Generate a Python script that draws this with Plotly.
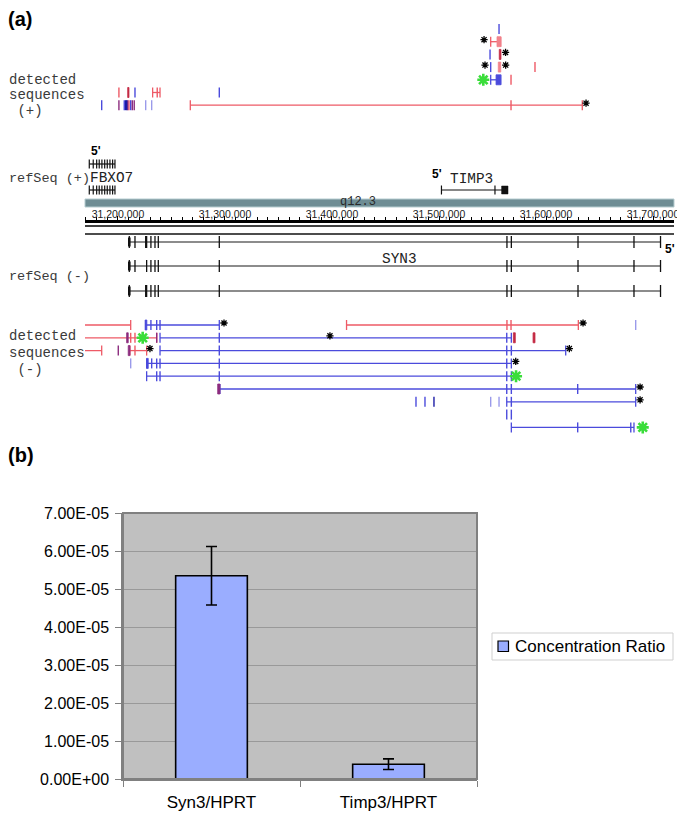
import plotly.graph_objects as go

W, H = 685, 826

# ======================= DATA =======================
# genomic ruler (chr22)
axis_ticks = [31200000, 31300000, 31400000, 31500000, 31600000, 31700000]
view_range = [31169200, 31719600]
band_name = "q12.3"
band_label_pos = 31424000

# detected sequences, (+) strand : (row, start, end, kind)
plus_lines = [
    (1, 31548300, 31557700, "r"),
    (4, 31548300, 31557700, "b"),
    (5, 31232400, 31239300, "r"),
    (6, 31267600, 31633900, "r"),
]
plus_ticks = [  # (row, position, kind)
    (0, 31556100, "b"),
    (2, 31547700, "b"),
    (3, 31548300, "b"), (3, 31589700, "r"),
    (4, 31567300, "r"),
    (5, 31200900, "r"), (5, 31215900, "b"), (5, 31236700, "r"), (5, 31294700, "b"),
    (6, 31184800, "b"), (6, 31200900, "p"), (6, 31205900, "b"), (6, 31207200, "db"),
    (6, 31208100, "db"), (6, 31209100, "p"), (6, 31210300, "r"), (6, 31211900, "b"),
    (6, 31213400, "p"), (6, 31215200, "p"), (6, 31225900, "lb"), (6, 31231500, "lb"),
    (6, 31567300, "r"),
]
plus_blocks = [  # (row, start, end, kind)
    (1, 31554200, 31557700, "lr"),
    (2, 31556300, 31557900, "dr"),
    (3, 31555400, 31557700, "lr"),
    (4, 31553300, 31557700, "b"),
    (5, 31209100, 31210300, "dr"),
]
plus_stars = [  # (row, position, kind)
    (1, 31542100, "k"), (2, 31562200, "k"), (3, 31543000, "k"), (3, 31562300, "k"),
    (4, 31541400, "g"), (6, 31637400, "k"),
]

# refSeq (+) genes
fbxo7_exons = [31173200, 31176900, 31180100, 31182500, 31185000, 31187600,
               31190000, 31192500, 31195000, 31197200]
timp3_span = (31502300, 31564500)
timp3_exons = [31502300, 31552300]
timp3_block = (31558500, 31564500)

# refSeq (-) SYN3 transcripts (exon positions)
syn3_transcripts = [
    [31210600, 31215900, 31225900, 31226800, 31230800, 31234600, 31237700, 31294700,
     31563500, 31567600, 31629900, 31682200, 31707000],
    [31210600, 31215900, 31226800, 31230800, 31234600, 31237700, 31294700,
     31563500, 31567600, 31629900, 31682200, 31707000],
    [31210600, 31225900, 31226800, 31230800, 31234600, 31237700, 31294700,
     31563500, 31567600, 31629900, 31682200, 31707000],
]

# detected sequences, (-) strand
minus_lines = [
    (0, 31150000, 31211900, "r"), (0, 31225900, 31294700, "b"), (0, 31413600, 31630200, "r"),
    (1, 31150000, 31236200, "r"), (1, 31239300, 31567600, "b"),
    (2, 31150000, 31184800, "r"), (2, 31211200, 31226800, "r"), (2, 31239300, 31618400, "b"),
    (3, 31226800, 31567600, "b"),
    (4, 31226800, 31567600, "b"),
    (5, 31295300, 31683800, "b"),
    (6, 31563300, 31683800, "b"),
    (8, 31567600, 31682200, "b"),
]
minus_ticks = [
    (0, 31230800, "b"), (0, 31236200, "b"), (0, 31239300, "b"), (0, 31563500, "r"),
    (0, 31567300, "r"), (0, 31683800, "lb"),
    (1, 31211900, "r"), (1, 31215900, "r"), (1, 31236200, "p"), (1, 31294700, "b"),
    (1, 31563300, "b"),
    (2, 31200300, "p"), (2, 31215900, "r"), (2, 31294700, "b"), (2, 31563300, "b"),
    (2, 31567600, "b"),
    (3, 31211900, "lb"), (3, 31231500, "b"), (3, 31236200, "b"), (3, 31239300, "b"),
    (3, 31294700, "b"), (3, 31563300, "b"),
    (4, 31236200, "b"), (4, 31239300, "b"), (4, 31294700, "b"), (4, 31563300, "b"),
    (5, 31563300, "b"), (5, 31567600, "b"), (5, 31629600, "b"),
    (6, 31478500, "b"), (6, 31486900, "b"), (6, 31495300, "db"), (6, 31548300, "lb"),
    (6, 31556100, "lb"), (6, 31567600, "b"),
    (7, 31563300, "b"), (7, 31567600, "b"),
    (8, 31629600, "b"), (8, 31679200, "b"),
]
minus_blocks = [
    (0, 31225400, 31227000, "b"),
    (1, 31208100, 31209600, "p"), (1, 31569500, 31571300, "dr"), (1, 31587900, 31589700, "dr"),
    (2, 31209600, 31211200, "p"),
    (3, 31226800, 31228300, "b"),
    (5, 31293200, 31295300, "p"),
]
minus_stars = [
    (0, 31299100, "k"), (0, 31634600, "k"), (1, 31223100, "g"), (1, 31398100, "k"),
    (2, 31229900, "k"), (2, 31621800, "k"), (3, 31571700, "k"), (4, 31572000, "g"),
    (5, 31687900, "k"), (6, 31687900, "k"), (8, 31690400, "g"),
]

# panel (b): qPCR bar chart
bar_categories = ["Syn3/HPRT", "Timp3/HPRT"]
bar_values = [5.35e-5, 3.9e-6]
bar_errors = [7.7e-6, 1.4e-6]
bar_series_name = "Concentration Ratio"
y_tick_values = [0, 1e-5, 2e-5, 3e-5, 4e-5, 5e-5, 6e-5, 7e-5]
y_tick_labels = ["0.00E+00", "1.00E-05", "2.00E-05", "3.00E-05", "4.00E-05",
                 "5.00E-05", "6.00E-05", "7.00E-05"]

# ======================= STYLE / LAYOUT =======================
COLORS = {"r": "#EE5A66", "lr": "#F2838C", "dr": "#C42A44", "b": "#4B4BDC",
          "db": "#1C1CA6", "lb": "#9A9AEA", "p": "#8C2C7E", "k": "#000000",
          "g": "#3ADD3A"}
BAR_COLOR = "#9AADFF"
TRACK_Y0 = {"plus": 29.0, "minus": 325.0}
TRACK_DY = {"plus": 12.7, "minus": 12.8}
TICK_H = 5.0
MONO = "Liberation Mono, Courier New, monospace"
SANS = "Liberation Sans, Arial, Helvetica, sans-serif"
LABEL_COL = "#3a3a3a"
OFF = 8  # the page places the figure 8 px in from the top-left corner


def PX(x):
    return (x - OFF) / W


def PY(y):
    return 1 - (y - OFF) / H


fig = go.Figure()


def row_y(track, row):
    return TRACK_Y0[track] + row * TRACK_DY[track]


def add_line_trace(xs, ys, color, width):
    fig.add_trace(go.Scatter(x=xs, y=ys, mode="lines", xaxis="x", yaxis="y",
                             line=dict(color=color, width=width),
                             hoverinfo="skip", showlegend=False))


def add_detected(track, lines, ticks, blocks, stars):
    groups = {}
    for row, s, e, kind in lines:
        y = row_y(track, row)
        xs, ys = groups.setdefault(kind, ([], []))
        xs += [s, e, None, s, s, None, e, e, None]
        ys += [y, y, None, y - TICK_H, y + TICK_H, None, y - TICK_H, y + TICK_H, None]
    for kind, (xs, ys) in groups.items():
        add_line_trace(xs, ys, COLORS[kind], 1.3)
    groups = {}
    for row, p, kind in ticks:
        y = row_y(track, row)
        xs, ys = groups.setdefault(kind, ([], []))
        xs += [p, p, None]
        ys += [y - TICK_H, y + TICK_H, None]
    for kind, (xs, ys) in groups.items():
        add_line_trace(xs, ys, COLORS[kind], 1.4)
    groups = {}
    for row, s, e, kind in blocks:
        y = row_y(track, row)
        xs, ys = groups.setdefault(kind, ([], []))
        xs += [s, e, e, s, s, None]
        ys += [y - TICK_H, y - TICK_H, y + TICK_H, y + TICK_H, y - TICK_H, None]
    for kind, (xs, ys) in groups.items():
        fig.add_trace(go.Scatter(x=xs, y=ys, mode="lines", fill="toself",
                                 fillcolor=COLORS[kind], xaxis="x", yaxis="y",
                                 line=dict(color=COLORS[kind], width=0.8),
                                 hoverinfo="skip", showlegend=False))
    for kind, size, lw, dy in (("k", 6, 1.3, -2), ("g", 10, 2.6, 0)):
        pts = [(p, row_y(track, r) + dy) for r, p, k in stars if k == kind]
        if pts:
            fig.add_trace(go.Scatter(x=[p for p, _ in pts], y=[y for _, y in pts],
                                     mode="markers", xaxis="x", yaxis="y", cliponaxis=False,
                                     marker=dict(symbol="asterisk-open", size=size,
                                                 color=COLORS[kind],
                                                 line=dict(color=COLORS[kind], width=lw)),
                                     hoverinfo="skip", showlegend=False))


# ---- detected (+)
add_detected("plus", plus_lines, plus_ticks, plus_blocks, plus_stars)

# ---- refSeq (+)
fb_rows = [164.0, 190.0]
xs, ys = [], []
for y in fb_rows:
    xs += [fbxo7_exons[0], fbxo7_exons[-1], None]
    ys += [y, y, None]
    for p in fbxo7_exons:
        xs += [p, p, None]
        ys += [y - 4.5, y + 4.5, None]
y = fb_rows[1]
xs += [timp3_span[0], timp3_span[1], None]
ys += [y, y, None]
for p in timp3_exons:
    xs += [p, p, None]
    ys += [y - 4.5, y + 4.5, None]
add_line_trace(xs, ys, "#111111", 1.2)
fig.add_trace(go.Scatter(x=[timp3_block[0], timp3_block[1], timp3_block[1], timp3_block[0], timp3_block[0]],
                         y=[y - 4, y - 4, y + 4, y + 4, y - 4], mode="lines", fill="toself",
                         fillcolor="#111111", line=dict(color="#111111", width=0.5),
                         xaxis="x", yaxis="y", hoverinfo="skip", showlegend=False))

# ---- refSeq (-) SYN3
syn_rows = [242.0, 266.0, 291.0]
lx, ly, tx, ty = [], [], [], []
for yy, ex in zip(syn_rows, syn3_transcripts):
    lx += [ex[0], ex[-1], None]
    ly += [yy, yy, None]
    for p in ex:
        tx += [p, p, None]
        ty += [yy - 6, yy + 6, None]
add_line_trace(lx, ly, "#666666", 1.5)
add_line_trace(tx, ty, "#111111", 1.3)
bx, by = [], []
for yy, ex in zip(syn_rows, syn3_transcripts):
    bx += [ex[0], ex[0], None]
    by += [yy - 4.5, yy + 4.5, None]
add_line_trace(bx, by, "#111111", 2.6)

# ---- detected (-)
add_detected("minus", minus_lines, minus_ticks, minus_blocks, minus_stars)

# ---- panel (b) bars
fig.add_trace(go.Bar(x=bar_categories, y=bar_values, name=bar_series_name,
                     xaxis="x2", yaxis="y2",
                     marker=dict(color=BAR_COLOR, line=dict(color="#000000", width=1.6)),
                     error_y=dict(type="data", array=bar_errors, color="#000000",
                                  thickness=1.6, width=5.5),
                     showlegend=False, hoverinfo="skip"))

annotations = []


def label(text, xpx, ypx, size, family=MONO, color=LABEL_COL, xanchor="left", bold=False):
    annotations.append(dict(text=f"<b>{text}</b>" if bold else text, x=PX(xpx), y=PY(ypx),
                            xref="paper", yref="paper", xanchor=xanchor, yanchor="middle",
                            showarrow=False, font=dict(size=size, family=family, color=color)))


label("(a)", 6, 19, 20, SANS, "#000", bold=True)
label("(b)", 6, 455, 20, SANS, "#000", bold=True)
label("detected", 7, 80, 14)
label("sequences", 7, 95.5, 14)
label(" (+)", 7, 111, 14)
label("refSeq (+)", 7, 178, 13.5)
label("FBXO7", 88, 178, 14.4, color="#222")
label("5'", 88.5, 151, 12, SANS, "#000", bold=True)
label("5'", 430, 174, 12, SANS, "#000", bold=True)
label("TIMP3", 471, 179, 14.4, color="#222", xanchor="center")
label("SYN3", 400, 259, 14.4, color="#222", xanchor="center")
label("5'", 663, 249, 12, SANS, "#000", bold=True)
label("refSeq (-)", 7, 277, 13.5)
label("detected", 7, 336, 14)
label("sequences", 7, 353, 14)
label(" (-)", 7, 370, 14)

# manual legend (Excel-style legend box)
label(bar_series_name, 513, 646.5, 17, SANS, "#000")

# band label uses the genomic axis
annotations.append(dict(text=band_name, x=band_label_pos, y=202, xref="x", yref="y",
                        showarrow=False, xanchor="center", yanchor="middle",
                        font=dict(size=12, family=MONO, color="#2a2a2a")))

shapes = [
    # chromosome band
    dict(type="rect", xref="x domain", yref="y", x0=0, x1=1, y0=199, y1=207,
         fillcolor="#6E8D94", line=dict(color="#B5CCD0", width=1), layer="below"),
    # lines under ruler
    dict(type="line", xref="x domain", yref="y", x0=0, x1=1, y0=226, y1=226,
         line=dict(color="#000", width=1.4)),
    dict(type="line", xref="x domain", yref="y", x0=0, x1=1, y0=234, y1=234,
         line=dict(color="#111", width=1.4)),
    # bar plot area
    dict(type="rect", xref="x2 domain", yref="y2 domain", x0=0, x1=1, y0=0, y1=1,
         fillcolor="#C0C0C0", line=dict(width=0), layer="below"),
    dict(type="rect", xref="x2 domain", yref="y2 domain", x0=0, x1=1, y0=0, y1=1,
         fillcolor="rgba(0,0,0,0)", line=dict(color="#808080", width=2), layer="above"),
    # legend box and swatch
    dict(type="rect", xref="paper", yref="paper", x0=PX(492), x1=PX(673), y0=PY(660),
         y1=PY(633), fillcolor="white", line=dict(color="#CFCFCF", width=1)),
    dict(type="rect", xref="paper", yref="paper", x0=PX(498), x1=PX(508.5), y0=PY(651.5),
         y1=PY(641), fillcolor=BAR_COLOR, line=dict(color="#000", width=1.2)),
]

fig.update_layout(
    width=W, height=H, margin=dict(l=0, r=0, t=0, b=0, autoexpand=False),
    paper_bgcolor="white", plot_bgcolor="rgba(0,0,0,0)",
    bargap=0.595, showlegend=False,
    xaxis=dict(domain=[PX(85), PX(674)], range=view_range, anchor="free",
               position=PY(221), side="top", showline=True, linecolor="#000",
               linewidth=3, ticks="outside", ticklen=4, tickwidth=1, tickcolor="#000",
               tickvals=axis_ticks, tickformat=",d", automargin=False,
               ticklabelstandoff=-6,
               tickfont=dict(size=10.5, family=SANS, color="#222"),
               minor=dict(dtick=10000, tick0=31200000, ticks="outside", ticklen=3,
                          tickcolor="#000", showgrid=False),
               showgrid=False, zeroline=False, fixedrange=True),
    yaxis=dict(domain=[PY(440), 1], range=[440, OFF], visible=False,
               automargin=False, fixedrange=True),
    xaxis2=dict(domain=[PX(123), PX(477)], anchor="y2", type="category",
                showline=True, linecolor="#808080", linewidth=1.5, ticks="outside",
                tickson="boundaries", ticklen=6, tickcolor="#808080", showgrid=False,
                tickfont=dict(size=17, family=SANS, color="#000"), automargin=False,
                ticklabelstandoff=7, fixedrange=True),
    yaxis2=dict(domain=[PY(779), PY(513)], anchor="x2", range=[0, 7e-5],
                tickvals=y_tick_values, ticktext=y_tick_labels, showline=True,
                linecolor="#808080", linewidth=1.5, ticks="outside", ticklen=6,
                tickcolor="#808080", showgrid=True, gridcolor="#999999", gridwidth=1,
                zeroline=False, tickfont=dict(size=16, family=SANS, color="#000"),
                automargin=False, ticklabelstandoff=3, fixedrange=True),
    annotations=annotations,
    shapes=shapes,
)

fig.write_html("out.html")
